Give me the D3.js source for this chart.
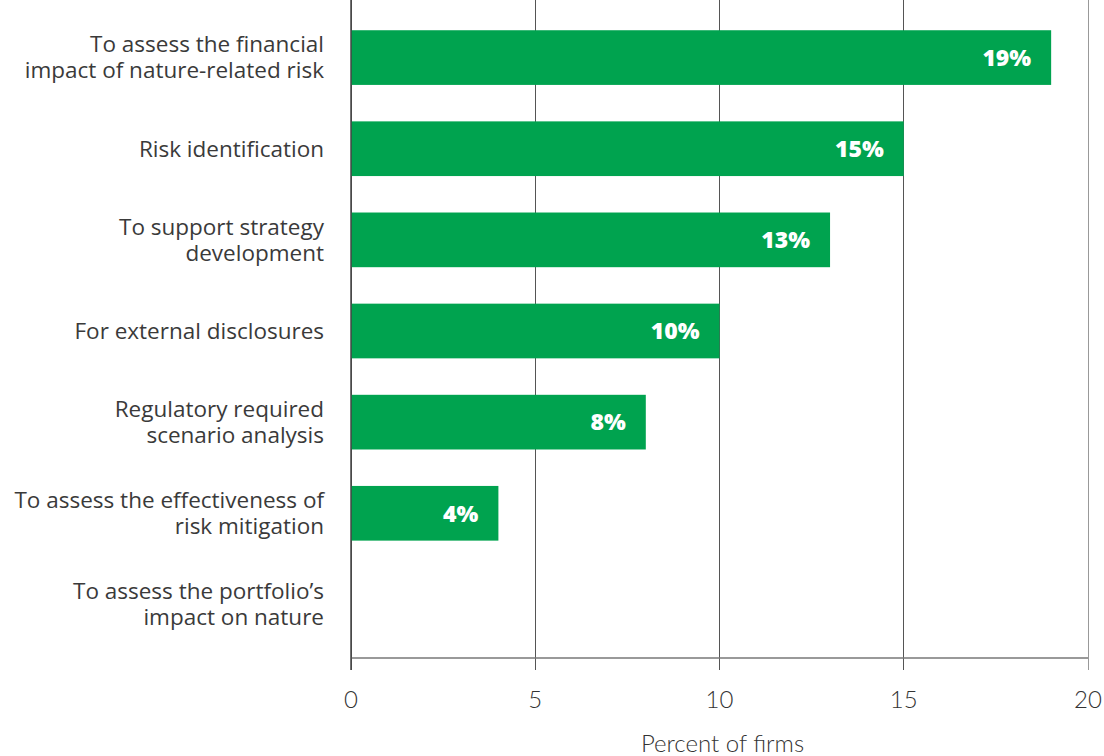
<!DOCTYPE html>
<html>
<head>
<meta charset="utf-8">
<script src="https://cdn.jsdelivr.net/npm/d3@7"></script>
<style>
  body { margin: 0; background: #fff; }
  svg { display: block; }
</style>
</head>
<body>
<script>
const categories = [
    ["To assess the financial", "impact of nature-related risk"],
    ["Risk identification"],
    ["To support strategy", "development"],
    ["For external disclosures"],
    ["Regulatory required", "scenario analysis"],
    ["To assess the effectiveness of", "risk mitigation"],
    ["To assess the portfolio\u2019s", "impact on nature"]
]
const values = [19, 15, 13, 10, 8, 4, 0]
const xTicks = [0, 5, 10, 15, 20]

let width = 1104, height = 756
let margin = {top: 0, right: 16, bottom: 98, left: 351}
const labelSize = 22.5

const svg = d3.select("body").append("svg")
    .attr("width", width)
    .attr("height", height)

const x = d3.scaleLinear()
    .domain([0, 20])
    .range([margin.left, width - margin.right])

const y = d3.scaleBand()
    .domain(d3.range(categories.length))
    .range([12, 650])
    .paddingInner(0.4)
    .paddingOuter(0.2)

const axisY = height - margin.bottom

// gridlines + ticks
svg.append("g")
    .selectAll("line")
    .data(xTicks)
    .enter()
    .append("line")
    .attr("x1", d => x(d))
    .attr("x2", d => x(d))
    .attr("y1", 0)
    .attr("y2", axisY + 12)
    .style("stroke", d => d === 20 ? "#999" : "#555")
    .style("stroke-width", 1)
    .attr("shape-rendering", "crispEdges")

svg.append("line")
    .attr("x1", x(0))
    .attr("x2", x(20))
    .attr("y1", axisY)
    .attr("y2", axisY)
    .style("stroke", "#777")
    .style("stroke-width", 1.5)

svg.append("g")
    .selectAll("rect")
    .data(values)
    .enter()
    .append("rect")
    .attr("x", x(0))
    .attr("y", (d, i) => y(i))
    .attr("width", d => x(d) - x(0))
    .attr("height", y.bandwidth())
    .style("fill", "#00a34f")

// y axis line on top of the bars
svg.append("line")
    .attr("x1", x(0))
    .attr("x2", x(0))
    .attr("y1", 0)
    .attr("y2", axisY + 12)
    .style("stroke", "#444")
    .style("stroke-width", 1.5)

svg.append("g")
    .selectAll("text")
    .data(values.filter(d => d > 0))
    .enter()
    .append("text")
    .attr("x", d => x(d) - 20)
    .attr("y", (d, i) => y(i) + y.bandwidth() / 2)
    .attr("dy", "0.36em")
    .style("text-anchor", "end")
    .style("font-family", "'Open Sans', sans-serif")
    .style("font-weight", "800")
    .style("font-size", "23px")
    .style("fill", "#fff")
    .text(d => d + "%")

const labels = svg.append("g")
    .selectAll("text")
    .data(categories)
    .enter()
    .append("text")
    .attr("x", margin.left - 27)
    .attr("y", (d, i) => y(i) + y.bandwidth() / 2)
    .style("text-anchor", "end")
    .style("font-family", "'Open Sans', sans-serif")
    .style("font-size", labelSize + "px")
    .style("fill", "#3a3a3a")

labels.selectAll("tspan")
    .data(d => d.map((t, k) => ({t: t, k: k, n: d.length})))
    .enter()
    .append("tspan")
    .attr("x", margin.left - 27)
    .attr("dy", d => d.k === 0 ? ((-(d.n - 1) * 13) / labelSize + 0.35) + "em" : (26 / labelSize) + "em")
    .text(d => d.t)

svg.append("g")
    .selectAll("text")
    .data(xTicks)
    .enter()
    .append("text")
    .attr("x", d => x(d))
    .attr("y", axisY + 42)
    .attr("dy", "0.35em")
    .style("text-anchor", "middle")
    .style("font-family", "Lato, sans-serif")
    .style("font-weight", "300")
    .style("font-size", "24px")
    .style("fill", "#333")
    .text(d => d)

svg.append("text")
    .attr("x", (x(0) + x(20)) / 2 + 3)
    .attr("y", axisY + 86)
    .attr("dy", "0.35em")
    .style("text-anchor", "middle")
    .style("font-family", "Lato, sans-serif")
    .style("font-weight", "300")
    .style("font-size", "24px")
    .style("fill", "#333")
    .text("Percent of firms")
</script>
</body>
</html>
